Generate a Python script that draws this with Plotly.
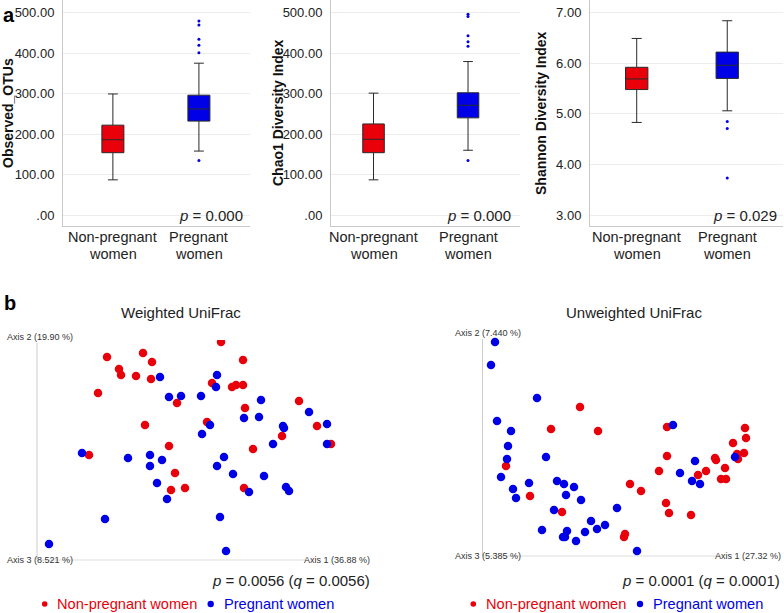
import plotly.graph_objects as go

# ---------------- data ----------------
groups = ["Non-pregnant women", "Pregnant women"]

# Panel a: box statistics [non-pregnant, pregnant]
observed_q1 = [154, 232]
observed_median = [186, 262]
observed_q3 = [222, 296]
observed_lower = [87, 158]
observed_upper = [299, 375]
observed_outliers_pregnant = [479, 469, 434, 419, 401, 135]

chao1_q1 = [154, 240]
chao1_median = [187, 271]
chao1_q3 = [225, 302]
chao1_lower = [87, 160]
chao1_upper = [301, 379]
chao1_outliers_pregnant = [496, 490, 443, 428, 417, 135]

shannon_q1 = [5.48, 5.70]
shannon_median = [5.69, 5.96]
shannon_q3 = [5.92, 6.22]
shannon_lower = [4.83, 5.06]
shannon_upper = [6.49, 6.84]
shannon_outliers_pregnant = [4.85, 4.71, 3.73]

obs_ticks = [0, 100, 200, 300, 400, 500]
obs_ticktext = [".00", "100.00", "200.00", "300.00", "400.00", "500.00"]
shannon_ticks = [3, 4, 5, 6, 7]
shannon_ticktext = ["3.00", "4.00", "5.00", "6.00", "7.00"]

p_alpha = ["0.000", "0.000", "0.029"]

# Panel b: PCoA scores (Axis 1, Axis 2), arbitrary units
w_np_ax1 = [184, 70, 106, 115, 206, 82, 84, 99, 114, 175, 195, 199, 206, 61, 140, 208, 262,
            108, 170, 280, 245, 132, 216, 294, 52, 138, 134, 148, 207]
w_np_ax2 = [216, 201, 205, 196, 198, 189, 183, 182, 179, 175, 171, 173, 173, 165, 155, 150, 157,
            133, 136, 132, 122, 112, 109, 114, 103, 85, 68, 70, 70]
w_p_ax1 = [123, 180, 179, 132, 144, 164, 224, 272, 207, 222, 173, 246, 290, 247, 165, 236, 290,
           45, 91, 113, 113, 125, 187, 180, 196, 227, 120, 249, 252, 212, 130, 183, 68, 12, 189]
w_p_ax2 = [181, 183, 171, 161, 162, 162, 158, 146, 140, 141, 133, 132, 134, 130, 124, 114, 114,
           105, 100, 103, 92, 98, 101, 92, 84, 82, 75, 71, 67, 66, 59, 41, 39, 14, 7]

u_np_ax1 = [97, 68, 115, 184, 262, 263, 250, 184, 254, 261, 232, 233, 255, 242, 176, 223, 215,
            238, 243, 23, 147, 158, 47, 183, 186, 208, 79, 142, 141]
u_np_ax2 = [149, 127, 125, 129, 128, 118, 113, 100, 102, 103, 98, 96, 97, 88, 85, 85, 81,
            77, 77, 90, 72, 65, 60, 53, 43, 41, 44, 22, 19]
u_p_ax1 = [12, 8, 54, 14, 190, 28, 25, 24, 63, 252, 212, 18, 197, 209, 217, 46, 74, 81, 91, 30,
           33, 83, 98, 134, 71, 108, 122, 114, 59, 84, 102, 80, 82, 93, 154]
u_p_ax2 = [214, 191, 158, 135, 131, 125, 110, 97, 99, 99, 95, 79, 83, 75, 72, 73, 75, 72, 69, 67,
           58, 61, 56, 48, 46, 35, 31, 27, 26, 25, 24, 19, 19, 15, 5]

# ---------------- styling ----------------
W, H = 784, 613
RED = "#e8000b"
BLUE = "#0000e6"
FONT = "Liberation Sans, Arial, sans-serif"
GRID = "#ececec"
AXLINE = "#c8c8c8"


def px(x):
    return x / W


def py(y):
    return 1 - y / H


fig = go.Figure()

panels = [
    dict(q1=observed_q1, med=observed_median, q3=observed_q3, lo=observed_lower, hi=observed_upper,
         out=observed_outliers_pregnant, title="Observed_OTUs", dom=(63, 250), xr=(-0.58, 1.594),
         yr=(-27, 531), tv=obs_ticks, tt=obs_ticktext, bw=0.256, title_x=8, p_right=245),
    dict(q1=chao1_q1, med=chao1_median, q3=chao1_q3, lo=chao1_lower, hi=chao1_upper,
         out=chao1_outliers_pregnant, title="Chao1 Diversity Index", dom=(331, 520), xr=(-0.45, 1.55),
         yr=(-27, 531), tv=obs_ticks, tt=obs_ticktext, bw=0.228, title_x=278, p_right=513),
    dict(q1=shannon_q1, med=shannon_median, q3=shannon_q3, lo=shannon_lower, hi=shannon_upper,
         out=shannon_outliers_pregnant, title="Shannon Diversity Index", dom=(590, 783), xr=(-0.516, 1.616),
         yr=(2.783, 7.25), tv=shannon_ticks, tt=shannon_ticktext, bw=0.247, title_x=541, p_right=779),
]

annotations = []
shapes = []

for i, p in enumerate(panels):
    n = i + 1
    xa = "x" if n == 1 else f"x{n}"
    ya = "y" if n == 1 else f"y{n}"
    for g, col in zip(range(2), [RED, BLUE]):
        fig.add_trace(go.Box(
            x=[g], q1=[p["q1"][g]], median=[p["med"][g]], q3=[p["q3"][g]],
            lowerfence=[p["lo"][g]], upperfence=[p["hi"][g]],
            fillcolor=col, line=dict(color="#2a2a2a", width=1),
            width=p["bw"], whiskerwidth=0.45, boxpoints=False,
            xaxis=xa, yaxis=ya, showlegend=False, hoverinfo="skip"))
    fig.add_trace(go.Scatter(
        x=[1] * len(p["out"]), y=p["out"], mode="markers",
        marker=dict(color=BLUE, size=3), xaxis=xa, yaxis=ya, showlegend=False, hoverinfo="skip"))

    xkey = "xaxis" if n == 1 else f"xaxis{n}"
    ykey = "yaxis" if n == 1 else f"yaxis{n}"
    fig.update_layout(**{
        xkey: dict(domain=[px(p["dom"][0]), px(p["dom"][1])], range=list(p["xr"]),
                   showline=True, linecolor=AXLINE, linewidth=1, showgrid=False,
                   zeroline=False, showticklabels=False, ticks="", anchor=ya),
        ykey: dict(domain=[py(226), 1.0], range=list(p["yr"]), tickvals=p["tv"], ticktext=p["tt"],
                   showline=True, linecolor=AXLINE, linewidth=1, gridcolor=GRID, gridwidth=1,
                   zeroline=False, ticks="", ticklabelstandoff=5, anchor=xa,
                   tickfont=dict(family=FONT, size=13, color="#222")),
    })
    # category labels
    for g, lab in enumerate(groups):
        first, second = lab.rsplit(" ", 1)
        for txt, yy in ((first, 237), (second, 254)):
            annotations.append(dict(x=g, y=py(yy), xref=xa, yref="paper", text=txt, showarrow=False,
                                    xanchor="center", yanchor="middle",
                                    font=dict(family=FONT, size=14.5, color="#222")))
    # axis title
    annotations.append(dict(x=px(p["title_x"]), y=py(113), xref="paper", yref="paper", text=f"<b>{p['title']}</b>",
                            showarrow=False, textangle=-90, xanchor="center", yanchor="middle",
                            font=dict(family=FONT, size=14, color="#111")))
    # p value
    annotations.append(dict(x=px(p["p_right"]), y=py(215), xref="paper", yref="paper",
                            text=f"<i>p</i> = {p_alpha[i]}", showarrow=False, xanchor="right", yanchor="middle",
                            font=dict(family=FONT, size=15, color="#222")))

# ---------------- panel b ----------------
scatter_specs = [
    dict(xa="x4", ya="y4", np1=w_np_ax1, np2=w_np_ax2, p1=w_p_ax1, p2=w_p_ax2),
    dict(xa="x5", ya="y5", np1=u_np_ax1, np2=u_np_ax2, p1=u_p_ax1, p2=u_p_ax2),
]
for s in scatter_specs:
    fig.add_trace(go.Scatter(x=s["np1"], y=s["np2"], mode="markers", marker=dict(color=RED, size=8.5),
                             xaxis=s["xa"], yaxis=s["ya"], showlegend=False, hoverinfo="skip"))
    fig.add_trace(go.Scatter(x=s["p1"], y=s["p2"], mode="markers", marker=dict(color=BLUE, size=8.5),
                             xaxis=s["xa"], yaxis=s["ya"], showlegend=False, hoverinfo="skip"))

hidden = dict(visible=False, showgrid=False, zeroline=False)
fig.update_layout(
    xaxis4=dict(domain=[px(37), px(372)], range=[0, 335], anchor="y4", **hidden),
    yaxis4=dict(domain=[py(560), py(340)], range=[-2, 218], anchor="x4", **hidden),
    xaxis5=dict(domain=[px(483), px(783)], range=[0, 300], anchor="y5", **hidden),
    yaxis5=dict(domain=[py(556), py(337)], range=[0, 219], anchor="x5", **hidden),
)

# PCoA axes lines
for (x0, ytop, ybot, xend) in [(37, 343, 560, 305), (482.5, 339, 556, 723)]:
    shapes.append(dict(type="line", xref="paper", yref="paper", x0=px(x0), x1=px(x0), y0=py(ytop), y1=py(ybot),
                       line=dict(color="#cccccc", width=1), layer="below"))
    shapes.append(dict(type="line", xref="paper", yref="paper", x0=px(x0), x1=px(xend), y0=py(ybot), y1=py(ybot),
                       line=dict(color="#dddddd", width=1), layer="below"))

small = dict(family=FONT, size=9, color="#333")
pcoa_text = [
    ("Weighted UniFrac", 181, 313, "center", dict(family=FONT, size=15, color="#222")),
    ("Unweighted UniFrac", 634, 312, "center", dict(family=FONT, size=15, color="#222")),
    ("Axis 2 (19.90 %)", 4.5, 337, "left", small),
    ("Axis 3 (8.521 %)", 4.5, 560, "left", small),
    ("Axis 1 (36.88 %)", 372, 560, "right", small),
    ("Axis 2 (7.440 %)", 452.5, 333, "left", small),
    ("Axis 3 (5.385 %)", 452.5, 556, "left", small),
    ("Axis 1 (27.32 %)", 783, 556, "right", small),
    ("<i>p</i> = 0.0056 (<i>q</i> = 0.0056)", 372, 580, "right", dict(family=FONT, size=15, color="#222")),
    ("<i>p</i> = 0.0001 (<i>q</i> = 0.0001)", 782, 580, "right", dict(family=FONT, size=15, color="#222")),
]
for txt, x, y, anc, f in pcoa_text:
    annotations.append(dict(x=px(x), y=py(y), xref="paper", yref="paper", text=txt, showarrow=False,
                            xanchor=anc, yanchor="middle", font=f))

# legends
for (dot_np, txt_np, dot_p, txt_p) in [(44.7, 55, 210.7, 222), (473.3, 484, 640, 650.7)]:
    for dx, tx, col, lab in [(dot_np, txt_np, RED, groups[0]), (dot_p, txt_p, BLUE, groups[1])]:
        r = 2.8 if col == RED else 3.2
        shapes.append(dict(type="circle", xref="paper", yref="paper", x0=px(dx - r), x1=px(dx + r),
                           y0=py(604 + r), y1=py(604 - r), fillcolor=col, line=dict(width=0)))
        annotations.append(dict(x=px(tx), y=py(604), xref="paper", yref="paper", text=lab, showarrow=False,
                                xanchor="left", yanchor="middle", font=dict(family=FONT, size=14.6, color=col)))

# panel letters
annotations.append(dict(x=px(9), y=py(15), xref="paper", yref="paper", text="<b>a</b>", showarrow=False,
                        xanchor="center", yanchor="middle", font=dict(family=FONT, size=20, color="#000")))
annotations.append(dict(x=px(9.5), y=py(303), xref="paper", yref="paper", text="<b>b</b>", showarrow=False,
                        xanchor="center", yanchor="middle", font=dict(family=FONT, size=20, color="#000")))

fig.update_layout(
    width=W, height=H, margin=dict(l=0, r=0, t=0, b=0),
    paper_bgcolor="white", plot_bgcolor="white",
    annotations=annotations, shapes=shapes, showlegend=False,
    font=dict(family=FONT),
)

fig.write_html(
    "out.html",
    config={"displayModeBar": False},
    post_script="document.body.style.margin='0';document.body.style.overflow='hidden';",
)
